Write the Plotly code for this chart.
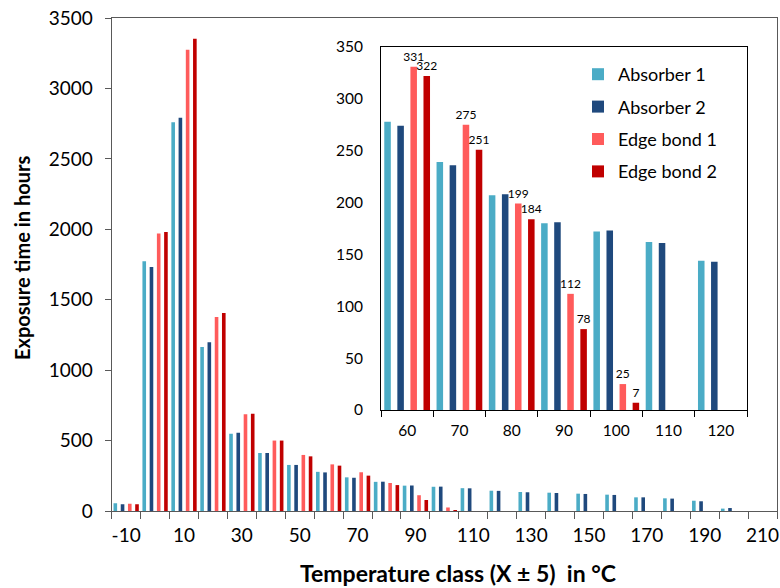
import plotly.graph_objects as go

# ---- data ----
classes = [-10, 0, 10, 20, 30, 40, 50, 60, 70, 80, 90, 100, 110, 120, 130, 140, 150, 160, 170, 180, 190, 200]
absorber1 = [55, 1773, 2760, 1165, 549, 412, 327, 278, 239, 207, 180, 172, 162, 144, 135, 130, 123, 116, 97, 90, 73, 17]
absorber2 = [48, 1733, 2791, 1198, 556, 412, 327, 274, 236, 208, 181, 173, 161, 143, 133, 128, 121, 114, 97, 88, 69, 21]
edge1 = [52, 1970, 3274, 1378, 687, 500, 398, 331, 275, 199, 112, 25, 0, 0, 0, 0, 0, 0, 0, 0, 0, 0]
edge2 = [48, 1981, 3352, 1406, 691, 500, 388, 322, 251, 184, 78, 7, 0, 0, 0, 0, 0, 0, 0, 0, 0, 0]

series_names = ["Absorber 1", "Absorber 2", "Edge bond 1", "Edge bond 2"]
series_values = [absorber1, absorber2, edge1, edge2]
colors = ["#4BACC6", "#1F497D", "#FF5B5B", "#C00000"]
labelled = [False, False, True, True]

main_ticks = list(range(-10, 211, 20))
inset_min, inset_max = 60, 120
inset_ticks = list(range(inset_min, inset_max + 1, 10))

W, H = 780, 588
FONT = "Lato"

def px_x(p):
    return p / W

def px_y(p):
    return (H - p) / H

fig = go.Figure()

# main chart
for i, (name, vals, col) in enumerate(zip(series_names, series_values, colors)):
    fig.add_trace(go.Bar(
        x=classes, y=vals, name=name, marker=dict(color=col, line=dict(width=0)),
        xaxis="x", yaxis="y", legendgroup=name, showlegend=True,
    ))

# inset (zoom of classes 60..120)
for i, (name, vals, col) in enumerate(zip(series_names, series_values, colors)):
    xs = [c for c in classes if inset_min <= c <= inset_max]
    ys = [v for c, v in zip(classes, vals) if inset_min <= c <= inset_max]
    txt = [str(v) if (labelled[i] and v > 0) else "" for v in ys]
    fig.add_trace(go.Bar(
        x=xs, y=ys, name=name, marker=dict(color=col, line=dict(width=0)),
        xaxis="x2", yaxis="y2", legendgroup=name, showlegend=False,
        text=txt, textposition="outside", constraintext="none", cliponaxis=False,
        textfont=dict(family=FONT, size=12, color="#000000"),
    ))

axis_col = "#595959"
fig.update_layout(
    width=W, height=H, autosize=False,
    margin=dict(l=0, r=0, t=0, b=0, autoexpand=False),
    paper_bgcolor="white", plot_bgcolor="white",
    font=dict(family=FONT, size=19, color="#000000"),
    barmode="group", bargap=0.0, bargroupgap=0.5,
    xaxis=dict(
        domain=[px_x(111.7), px_x(777)], anchor="y", automargin=False,
        range=[-15, 215], tickmode="array", tickvals=main_ticks,
        ticktext=[str(t) for t in main_ticks],
        ticks="outside", ticklen=7, tickcolor="rgba(0,0,0,0)",
        minor=dict(tickmode="array", tickvals=list(range(-15, 216, 10)),
                   ticks="outside", ticklen=7, tickcolor=axis_col, tickwidth=1, showgrid=False),
        showline=True, linecolor=axis_col, linewidth=1.3, mirror=True,
        showgrid=False, zeroline=False,
        tickfont=dict(family=FONT, size=19),
    ),
    yaxis=dict(
        domain=[px_y(511), px_y(18)], anchor="x", automargin=False,
        range=[0, 3500], tickmode="linear", tick0=0, dtick=500,
        ticks="outside", ticklen=6, tickcolor=axis_col, ticklabelstandoff=8,
        showline=True, linecolor=axis_col, linewidth=1.3, mirror=True,
        showgrid=False, zeroline=False,
        tickfont=dict(family=FONT, size=19),
    ),
    xaxis2=dict(
        domain=[px_x(381), px_x(747)], anchor="y2", automargin=False,
        range=[inset_min - 5, inset_max + 5], tickmode="array", tickvals=inset_ticks,
        ticktext=[str(t) for t in inset_ticks],
        ticks="outside", ticklen=6, tickcolor="rgba(0,0,0,0)",
        minor=dict(tickmode="array", tickvals=list(range(inset_min - 5, inset_max + 6, 10)),
                   ticks="outside", ticklen=6, tickcolor="#000000", tickwidth=1, showgrid=False),
        showline=True, linecolor="#000000", linewidth=1, mirror=True,
        showgrid=False, zeroline=False,
        tickfont=dict(family=FONT, size=15.5),
    ),
    yaxis2=dict(
        domain=[px_y(410), px_y(47)], anchor="x2", automargin=False,
        range=[0, 350], tickmode="linear", tick0=0, dtick=50,
        ticks="", ticklabelstandoff=14,
        showline=True, linecolor="#000000", linewidth=1, mirror=True,
        showgrid=False, zeroline=False,
        tickfont=dict(family=FONT, size=15.5),
    ),
    legend=dict(
        x=px_x(578), y=px_y(56), xanchor="left", yanchor="top",
        bgcolor="rgba(0,0,0,0)", borderwidth=0,
        font=dict(family=FONT, size=18),
        tracegroupgap=6,
    ),
    annotations=[
        dict(text="<b>Temperature class (X ± 5)\u00a0\u00a0in °C</b>", xref="paper", yref="paper",
             x=px_x(458), y=px_y(573), xanchor="center", yanchor="middle", showarrow=False,
             font=dict(family=FONT, size=23)),
        dict(text="<b>Exposure time in hours</b>", xref="paper", yref="paper",
             x=px_x(22), y=px_y(258), xanchor="center", yanchor="middle", showarrow=False,
             textangle=-90, font=dict(family=FONT, size=20)),
    ],
)

fig.write_html(
    "out.html",
    config={"displayModeBar": False},
    post_script="document.body.style.margin='0';document.body.style.overflow='hidden';",
)
